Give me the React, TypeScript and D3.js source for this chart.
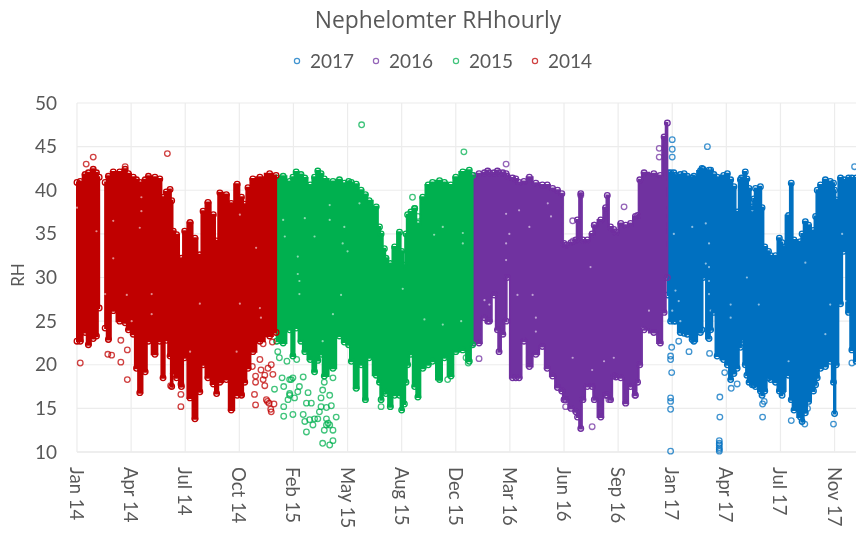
import React from "react";
import * as d3 from "d3";

const tickDays = [0,100,200,300,400,500,600,700,800,900,1000,1100,1200,1300,1400];
const tickLabels = ["Jan 14","Apr 14","Jul 14","Oct 14","Feb 15","May 15","Aug 15","Dec 15","Mar 16","Jun 16","Sep 16","Jan 17","Apr 17","Jul 17","Nov 17"];
const yTicks = [10,15,20,25,30,35,40,45,50];

// Columns of the dense hourly cloud: day since 1 Jan 2014, top and bottom of the cloud
const days14 = [0,6,15,21,30,36,41,44,50,52,58,67,79,89,95,104,110,116,126,132,144,153,159,165,172,175,178,184,193,199,209,218,227,233,242,252,258,264,276,285,296,304,310,316,325,338,356,368];
const high14 = [40.9,41,41.8,42,42.4,42,41.5,NaN,NaN,40.9,41.6,42.1,42.1,42.4,41.9,41.5,41.2,40.9,41.2,41.6,41.5,41.3,39.2,39.8,40.1,38.8,35.3,34.9,32.2,35.3,36.3,34.5,32.6,37.6,38.6,37.2,34.2,39.7,39.5,38.5,40.7,39.2,38.4,40.3,41.3,41.5,41.9,41.7];
const low14 = [22.7,22.7,23.7,22.3,23,23.3,26.5,NaN,NaN,24.2,22.9,26.2,25,24.8,24,23.5,19.6,16.8,19.2,22.7,21.2,22.7,18.5,22.8,21,17.5,19,18.5,17.5,20.8,16.2,13.8,16.9,20,18.5,17.8,16.7,18,18.3,14.8,16.5,16.5,18,19.6,21.5,22.7,23.3,23.7];

const days15 = [369,381,393,399,405,414,421,431,439,445,451,457,473,485,494,502,507,516,525,533,540,553,559,562,568,571,579,587,596,600,605,608,611,617,624,630,639,649,657,670,679,691,700,713,725,731];
const high15 = [41.4,41.6,41,41.5,42.1,41.8,41.4,40.6,41.5,42.2,41.9,41.3,41,41.2,40.8,41,40.9,40.7,40,39.5,38.8,38.1,35.8,35,33.3,32.2,31.6,33.5,35.2,33,31.4,35,37.2,37.5,37.9,36.2,39.2,40.6,40.9,41.1,40.9,40.6,41.5,42.1,42.3,41.7];
const low15 = [22.7,22.5,24,21,24.2,22.7,21.5,20.6,19.2,20.5,21.2,18.7,19.6,23.3,22.6,22.3,20.4,17.3,20,16,20.8,18.8,18,16,17,16.7,15.2,16.5,16.5,14.8,15.5,18,20,21.2,17.5,16.3,19.6,20,20.4,18.3,20.8,18.7,21.5,21.7,20.4,22.3];

const days16 = [732,743,753,759,762,771,777,780,787,793,795,805,811,817,826,836,848,860,869,879,888,896,900,903,913,922,925,931,935,943,952,956,968,977,980,986,992,996,1005,1014,1023,1032,1036,1040,1048,1066,1078,1085,1091];
const high16 = [41.7,41.9,42,42.2,42,42,42.2,42,42,41.9,41.6,41.4,41.3,40.9,41,41.5,40.8,40.6,40.6,40.2,40,39.6,33.9,33.7,34,34.3,36.6,39.6,34.3,34.3,35,36,36.6,38,39.4,35.8,35.5,35.2,36.2,36,36.2,37,37.1,41.2,42,41.9,41.7,46.1,47.7];
const low16 = [22.5,22.5,25.4,25,25,28,24,21.5,23.5,25,30,18.5,18.5,18.5,22.7,19.8,21.2,22.1,19.6,18.7,17.4,17,16,16,15,14.6,14,12.7,16,17.5,17.5,16,14,16.5,16.5,16,18.7,18.6,18.5,15.6,17.5,16.5,18,20,24,23.7,22.5,26,30];

const days17 = [1092,1097,1103,1106,1115,1122,1128,1137,1140,1152,1155,1157,1168,1171,1177,1183,1195,1202,1208,1214,1220,1226,1228,1235,1238,1242,1248,1251,1254,1263,1266,1271,1278,1282,1291,1298,1303,1304,1315,1320,1325,1337,1340,1346,1352,1361,1365,1368,1374,1383,1392,1398,1400,1403,1411,1417,1426,1432,1440];
const high17 = [42,42,42,41.7,41.8,41.9,41.6,41.4,41.6,42.2,42.5,42.4,42.3,42.3,41.8,41.5,41.7,41.9,41.2,40.4,37.5,41.2,41.4,42.1,41.3,40.2,38.1,39,40.2,40.4,38,33.5,33,32.5,32.5,34.5,34,33.5,37.1,40.8,34.3,34.1,35,36.4,36,35.4,37,40,40.6,41.2,41,40.8,40,38.9,41.4,41.2,41.4,41.4,41.4];
const low17 = [28,25,25,25,23.7,23.6,23.5,22.9,22.7,23.7,24,30,23,24,26,21,20.6,20,18.3,19,19.6,22,22.9,20,18.8,18,17.7,17.7,17.5,17,16.5,17,18.5,18.3,18,17,16.5,17,18.8,16,14.8,14,13.5,14.5,15.8,17,17.7,18.5,19.6,19.8,20.4,18,14.4,20,27,33,26,21.7,20.4];

// Stray points outside the cloud: [day, RH]
const strays14 = [[17,43],[30,43.8],[167,44.2],[89,42.7],[6,20.2],[57,21.2],[64,21.1],[81,22.8],[93,21.7],[81,20.3],[93,18.3],[173,17.6],[192,17.8],[192,16.6],[192,15.2],[328,16.6],[330,15.4],[304,16.6],[338,20.6],[324,19.8],[330,18.7],[330,18],[344,18.3],[347,17.6],[350,16],[355,15.6],[359,14.6],[364,15.5],[353,19.6],[359,20],[362,18.9],[361,22.6],[344,22.4],[340,19.4],[347,18.8],[352,15.8],[358,14.9]];
const strays15 = [[371,21.5],[374,20.8],[388,20.4],[406,20.6],[365,17.2],[379,18.5],[382,17.5],[399,18.5],[393,18.3],[418,18.6],[411,17.5],[408,16.9],[393,16.7],[402,16.2],[390,16],[382,15.2],[399,14.3],[382,14.1],[427,16.8],[424,15.6],[433,15.6],[451,16.2],[454,17.1],[457,18],[473,18.5],[467,16.5],[470,15.3],[461,15.1],[451,15.2],[418,14.3],[421,13.5],[436,13.1],[424,12.3],[448,14.6],[445,13.8],[461,13.8],[467,13.1],[479,14],[473,12.5],[457,12.5],[454,11],[467,10.8],[473,11.3],[439,13.8],[461,13.1],[430,13.7],[464,13.3],[396,18.3],[393,16.5],[670,18.5],[685,18.3],[562,15.2],[719,20.8],[723,20.2],[526,47.5],[715,44.4],[620,39.2],[624,37.9],[630,37]];
const strays16 = [[743,20.7],[793,43],[952,12.9],[983,16],[1031,16.5],[903,15.2],[1011,38.1],[1076,44.8],[1076,43.8],[956,36],[931,39.4],[916,36.5],[917,34.2]];
const strays17 = [[1097,10.1],[1097,14.9],[1097,15.8],[1097,16.2],[1099,19.1],[1097,20.6],[1097,21],[1099,22],[1112,22.7],[1131,21.5],[1169,21.3],[1188,16.3],[1188,14],[1187,11.3],[1187,11],[1187,10.8],[1187,10.5],[1187,10.3],[1187,10.1],[1197,19.1],[1209,17.3],[1220,17.8],[1267,14],[1398,13.2],[1432,20.2],[1165,45],[1437,42.7],[1100,45.8],[1100,44.7],[1100,43.8],[1267,15.5],[1270,15.8],[1320,13.6],[1345,13.2],[1350,15]];

// Pale holes seen inside the cloud: [day, RH]
const holes14 = [[119,39.2],[119,37.6],[116,35.7],[67,36.5],[67,32.2],[36,35.3],[0,38],[301,37.2],[331,33.4],[52,28.1],[138,28.1],[138,25.8],[92,28],[101,25],[209,21.5],[338,26.5],[340,25.4],[295,21.5],[227,27],[301,27]];
const holes15 = [[384,34.7],[381,36.6],[421,36.8],[467,38.3],[467,36.6],[494,35.8],[491,33.9],[500,33],[408,32.4],[439,34.7],[522,38.5],[676,35.8],[660,34.9],[713,35.1],[713,33.9],[411,28.1],[411,29.6],[408,30.4],[488,28],[473,25.8],[642,25.2],[676,24.6],[710,25],[602,28.7],[454,22.7]];
const holes16 = [[793,37.3],[793,32],[793,33.9],[817,37.7],[836,35.8],[870,38.5],[876,37],[799,35],[753,27.4],[762,26.9],[848,25.4],[848,23.8],[814,28],[842,28],[949,31.2],[916,20.8],[974,20.4],[992,20.8],[1057,26.2],[952,19.4],[1045,24.2]];
const holes17 = [[1106,28.5],[1112,27.3],[1100,26.2],[1115,25],[1168,31.2],[1168,29.6],[1168,28.1],[1171,26.2],[1208,26.9],[1208,25.4],[1260,26.9],[1238,30],[1346,31.7],[1392,26.9],[1420,27.3],[1383,23.5],[1315,20.4],[1137,35.8],[1162,36.2],[1168,33.9],[1248,37.7],[1414,35],[1162,31.6],[1103,35]];

const seriesNames = ["2017","2016","2015","2014"];
const seriesColors = ["#0070C0","#7030A0","#00B050","#C00000"];
const seriesDays = [days17,days16,days15,days14];
const seriesHigh = [high17,high16,high15,high14];
const seriesLow = [low17,low16,low15,low14];
const seriesStrays = [strays17,strays16,strays15,strays14];
const seriesHoles = [holes17,holes16,holes15,holes14];
const legendX = [297,376,456,535];

const FONT = "Lato, 'Open Sans', sans-serif";
const GREY = "#595959";

export default function App() {
  const x = d3.scaleLinear().domain([0, 1435]).range([77, 853.5]);
  const y = d3.scaleLinear().domain([10, 50]).range([452, 103]);
  const area = d3.area<any>()
    .curve(d3.curveStep)
    .x((c) => x(c.d))
    .y0((c) => y(c.l))
    .y1((c) => y(c.h))
    .defined((c) => !Number.isNaN(c.h));
  const R = 2.8;
  return (
    <svg width={856} height={533} style={{ position: "fixed", left: 0, top: 0, background: "#fff" }}>
      <defs>
        <filter id="soft" x="0" y="0" width="100%" height="100%">
          <feGaussianBlur stdDeviation="0.45" />
        </filter>
      </defs>
      <g filter="url(#soft)">
        {yTicks.map((t) => (
          <line key={t} x1={77} x2={856} y1={y(t)} y2={y(t)} stroke={t === 10 ? "#dedede" : "#ececec"} strokeWidth={1.2} />
        ))}
        {tickDays.map((t) => (
          <line key={t} x1={x(t)} x2={x(t)} y1={103} y2={452} stroke="#ececec" strokeWidth={1.2} />
        ))}
        {seriesNames.map((n, s) => {
          const cols = seriesDays[s].map((d, i) => ({ d, h: seriesHigh[s][i], l: seriesLow[s][i] }));
          return (
            <g key={n}>
              <path d={area(cols) as string} fill={seriesColors[s]} stroke={seriesColors[s]} strokeWidth={2} />
              <g fill="#fff" fillOpacity={0.55}>
                {seriesHoles[s].map(([d, v], i) => (
                  <circle key={i} cx={x(d)} cy={y(v)} r={1.1} />
                ))}
              </g>
              <g fill="none" stroke={seriesColors[s]} strokeWidth={1.3}>
                {cols.filter((c) => !Number.isNaN(c.h)).map((c, i) => (
                  <g key={i}>
                    <circle cx={x(c.d)} cy={y(c.h)} r={R} />
                    <circle cx={x(c.d)} cy={y(c.l)} r={R} />
                  </g>
                ))}
              </g>
              <g fill="none" stroke={seriesColors[s]} strokeWidth={1.3} strokeOpacity={0.75}>
                {seriesStrays[s].map(([d, v], i) => (
                  <circle key={i} cx={x(d)} cy={y(v)} r={R} />
                ))}
              </g>
            </g>
          );
        })}
        <text x={438} y={28} textAnchor="middle" fontFamily="'Open Sans', sans-serif" fontSize={22.8} fill={GREY}>Nephelomter RHhourly</text>
        {seriesNames.map((n, s) => (
          <g key={n}>
            <circle cx={legendX[s]} cy={61} r={2.6} fill="none" stroke={seriesColors[s]} strokeWidth={1.2} strokeOpacity={0.75} />
            <text x={legendX[s] + 13} y={67.5} fontFamily={FONT} fontSize={19} fill={GREY}>{n}</text>
          </g>
        ))}
        {yTicks.map((t) => (
          <text key={t} x={57} y={y(t) + 6.5} textAnchor="end" fontFamily={FONT} fontSize={19} fill={GREY}>{t}</text>
        ))}
        {tickDays.map((t, i) => (
          <text key={t} transform={`translate(${x(t) - 7},467) rotate(90)`} fontFamily={FONT} fontSize={18.5} fill={GREY}>{tickLabels[i]}</text>
        ))}
        <text transform="translate(24,275) rotate(-90)" textAnchor="middle" fontFamily={FONT} fontSize={17} fill={GREY}>RH</text>
      </g>
    </svg>
  );
}
